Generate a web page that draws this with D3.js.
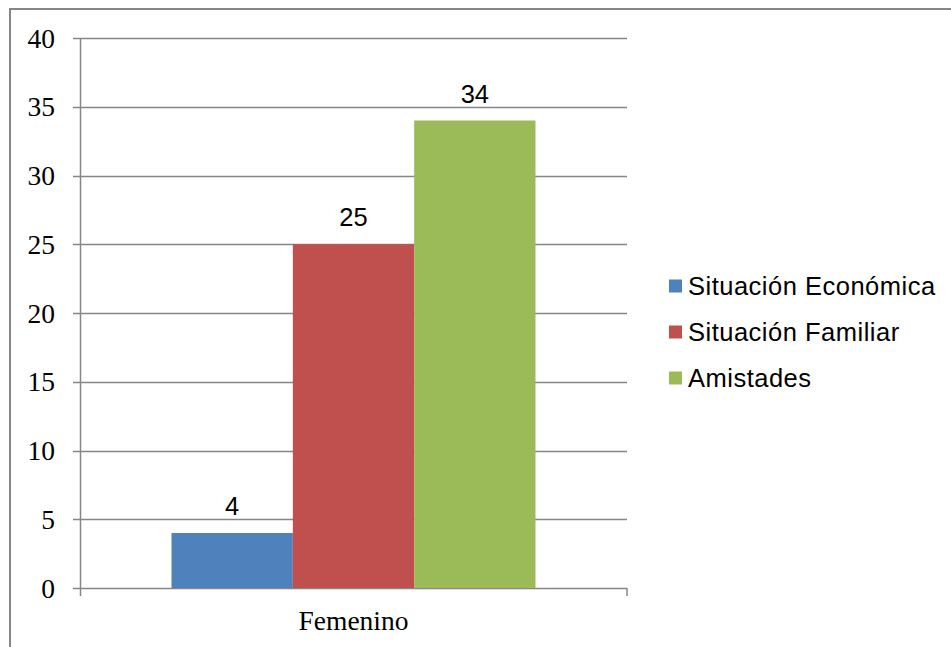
<!DOCTYPE html>
<html>
<head>
<meta charset="utf-8">
<script src="https://cdn.jsdelivr.net/npm/d3@7"></script>
<style>
    body { margin: 0; background: #fff; }
</style>
</head>
<body>
<div id="chart"></div>
<script>
var categories = ["Femenino"];
var series = ["Situación Económica", "Situación Familiar", "Amistades"];
var values = [4, 25, 34];
var colors = ["#4f81bd", "#c0504d", "#9bbb59"];
var yTicks = [0, 5, 10, 15, 20, 25, 30, 35, 40];

const width = 951, height = 647;
const grid_color = "#868686";

var svg = d3.select("#chart")
    .append("svg")
    .attr("width", width)
    .attr("height", height);

// outer frame
svg.append("rect")
    .attr("x", 10)
    .attr("y", 9)
    .attr("width", 960)
    .attr("height", 660)
    .attr("fill", "none")
    .attr("stroke", grid_color)
    .attr("stroke-width", 2);

var y = d3.scaleLinear()
    .domain([0, 40])
    .range([588, 38]);

var x0 = d3.scaleBand()
    .domain(categories)
    .range([80, 627])
    .paddingOuter(0.2514)
    .paddingInner(0);

var x1 = d3.scaleBand()
    .domain(series)
    .range([0, x0.bandwidth()]);

// gridlines
svg.append("g")
    .selectAll("line")
    .data(yTicks)
    .enter()
    .append("line")
    .attr("x1", 73)
    .attr("x2", 627)
    .attr("y1", function (d) { return Math.round(y(d)) + 0.5; })
    .attr("y2", function (d) { return Math.round(y(d)) + 0.5; })
    .attr("stroke", grid_color)
    .attr("stroke-width", 1.5);

// y axis line
svg.append("line")
    .attr("x1", 80.5).attr("x2", 80.5)
    .attr("y1", y(40)).attr("y2", 596)
    .attr("stroke", grid_color)
    .attr("stroke-width", 1.5);

// right tick at end of category axis
svg.append("line")
    .attr("x1", 627).attr("x2", 627)
    .attr("y1", y(0)).attr("y2", 596)
    .attr("stroke", grid_color)
    .attr("stroke-width", 1.5);

// y tick labels
svg.append("g")
    .selectAll("text")
    .data(yTicks)
    .enter()
    .append("text")
    .attr("x", 55)
    .attr("y", function (d) { return y(d) + 9.5; })
    .attr("text-anchor", "end")
    .style("font-family", "'Liberation Serif', serif")
    .style("font-size", "27.5px")
    .text(function (d) { return d; });

// bars
var group = svg.append("g")
    .attr("transform", "translate(" + x0(categories[0]) + ",0)");

group.selectAll("rect")
    .data(values)
    .enter()
    .append("rect")
    .attr("x", function (d, i) { return x1(series[i]); })
    .attr("y", function (d) { return y(d); })
    .attr("width", x1.bandwidth())
    .attr("height", function (d) { return y(0) - y(d); })
    .attr("fill", function (d, i) { return colors[i]; });

group.selectAll("text")
    .data(values)
    .enter()
    .append("text")
    .attr("x", function (d, i) { return x1(series[i]) + x1.bandwidth() / 2; })
    .attr("y", function (d) { return y(d) - 18; })
    .attr("text-anchor", "middle")
    .style("font-family", "'Liberation Sans', Arial, sans-serif")
    .style("font-size", "25.5px")
    .text(function (d) { return d; });

// category label
svg.append("text")
    .attr("x", x0(categories[0]) + x0.bandwidth() / 2)
    .attr("y", 629.5)
    .attr("text-anchor", "middle")
    .style("font-family", "'Liberation Serif', serif")
    .style("font-size", "27.5px")
    .text(categories[0]);

// legend
var legend = svg.append("g")
    .selectAll("g")
    .data(series)
    .enter()
    .append("g")
    .attr("transform", function (d, i) { return "translate(669," + (286 + 46 * i) + ")"; });

legend.append("rect")
    .attr("x", 0)
    .attr("y", -6.5)
    .attr("width", 13)
    .attr("height", 13)
    .attr("fill", function (d, i) { return colors[i]; });

legend.append("text")
    .attr("x", 19)
    .attr("y", 9)
    .style("font-family", "'Liberation Sans', Arial, sans-serif")
    .style("font-size", "25.5px")
    .style("letter-spacing", "0.5px")
    .text(function (d) { return d; });
</script>
</body>
</html>
